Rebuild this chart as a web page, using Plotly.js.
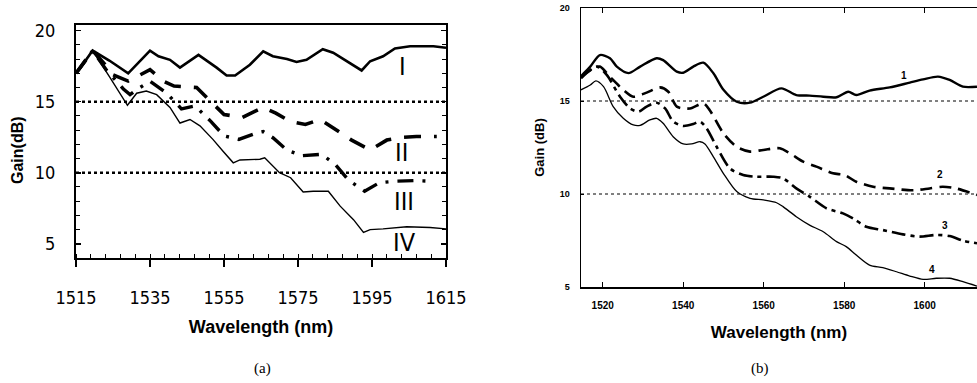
<!DOCTYPE html>
<html>
<head>
<meta charset="utf-8">
<script src="https://cdn.plot.ly/plotly-3.0.1.min.js"></script>
<style>html,body{margin:0;padding:0;background:#fff;}#chart{width:977px;height:383px;}</style>
</head>
<body>
<div id="chart"></div>
<script>
// ---------- Panel (a) data ----------
const aWlI   = [1515, 1516.5, 1519.5, 1524, 1529.1, 1532, 1535, 1537.3, 1540.4, 1543.1, 1548.1, 1553, 1555.7, 1558, 1562, 1565.6, 1568.2, 1572, 1574.6, 1577.3, 1581.7, 1584.5, 1589, 1592.2, 1594.5, 1598, 1601.2, 1605.3, 1611.6, 1615];
const aGainI = [17.0, 17.5, 18.6, 17.9, 17.0, 17.8, 18.6, 18.2, 17.95, 17.4, 18.3, 17.4, 16.85, 16.85, 17.6, 18.55, 18.2, 18.0, 17.8, 17.95, 18.7, 18.45, 17.75, 17.2, 17.85, 18.2, 18.75, 18.9, 18.9, 18.8];

const aWlII   = [1515, 1519.5, 1522.4, 1525, 1529.1, 1532.3, 1535, 1538.6, 1541.5, 1547.6, 1552, 1555, 1560, 1565.6, 1569, 1573, 1577, 1581, 1586, 1589.5, 1594.5, 1599, 1603.5, 1607, 1612.5];
const aGainII = [17.0, 18.6, 17.75, 16.9, 16.45, 16.9, 17.25, 16.45, 16.1, 16.0, 14.9, 14.1, 13.9, 14.6, 14.2, 13.6, 13.4, 13.75, 12.9, 12.3, 11.6, 12.3, 12.5, 12.55, 12.55];

const aWlIII   = [1515, 1519.5, 1523.3, 1527.8, 1529.6, 1531.4, 1535, 1539.5, 1543.5, 1547.2, 1551.5, 1555, 1559, 1563.8, 1565.6, 1568.3, 1572, 1576, 1581.4, 1585, 1588.6, 1593, 1597, 1601, 1606.6, 1611.6];
const aGainIII = [17.0, 18.6, 17.2, 15.9, 15.5, 15.85, 16.45, 15.6, 14.5, 14.7, 13.6, 12.6, 12.35, 12.8, 12.9, 12.45, 11.6, 11.2, 11.3, 10.6, 9.5, 8.7, 9.3, 9.4, 9.45, 9.4];

const aWlIV   = [1515, 1519.5, 1524.2, 1528.9, 1531.4, 1534, 1536.8, 1540.4, 1543.1, 1545.8, 1548.5, 1552, 1554.8, 1557.5, 1559.3, 1564.7, 1566, 1570, 1573, 1576.4, 1579.1, 1583.2, 1586.4, 1590, 1592.7, 1594.5, 1598, 1604.4, 1610.7, 1615];
const aGainIV = [17.0, 18.6, 16.7, 14.75, 15.6, 15.75, 15.5, 14.6, 13.5, 13.75, 13.3, 12.35, 11.5, 10.7, 10.9, 10.95, 11.05, 10.0, 9.65, 8.65, 8.7, 8.7, 7.65, 6.7, 5.8, 6.0, 6.05, 6.2, 6.15, 6.05];

const aLabels   = ["I", "II", "III", "IV"];
const aLabelWl  = [1603.2, 1603.0, 1603.6, 1603.9];
const aLabelGain= [17.5, 11.4, 8.0, 5.1];
const aRefLevels = [15, 10];

// ---------- Panel (b) data ----------
const bWl1   = [1514.6, 1516.9, 1519.3, 1521.8, 1523.5, 1526.4, 1529.3, 1533.4, 1535, 1538.4, 1540, 1542.5, 1545, 1547.5, 1550, 1553.3, 1556.6, 1559.9, 1564.4, 1568.1, 1571.4, 1574.8, 1578.1, 1581, 1583, 1586.3, 1591.3, 1596.3, 1599.6, 1603.3, 1606.2, 1609.5, 1613];
const bGain1 = [16.34, 16.85, 17.47, 17.3, 16.85, 16.5, 16.85, 17.3, 17.2, 16.58, 16.52, 16.85, 17.06, 16.49, 15.6, 14.96, 14.91, 15.23, 15.68, 15.32, 15.29, 15.23, 15.2, 15.5, 15.32, 15.56, 15.73, 15.99, 16.16, 16.31, 16.13, 15.77, 15.77];

const bWl2   = [1514.6, 1517.7, 1519.3, 1521.8, 1525.1, 1527.6, 1530.9, 1534.2, 1536.3, 1538.4, 1541.7, 1545, 1546.6, 1550, 1553.3, 1556.6, 1559.9, 1564, 1566.5, 1569.8, 1573.1, 1577.2, 1580.1, 1583, 1587.2, 1591.3, 1597.1, 1601.2, 1604.5, 1607.8, 1613];
const bGain2 = [16.3, 16.76, 16.85, 16.3, 15.6, 15.23, 15.45, 15.73, 15.5, 14.7, 14.6, 14.87, 14.5, 13.26, 12.54, 12.28, 12.37, 12.46, 12.19, 11.74, 11.47, 11.11, 11.02, 10.66, 10.39, 10.3, 10.2, 10.3, 10.39, 10.3, 9.95];

const bWl3   = [1514.6, 1518.5, 1521, 1524.3, 1526.8, 1528.9, 1530.9, 1533.4, 1535.5, 1537.5, 1540, 1542.5, 1544.2, 1545.8, 1548.3, 1551.6, 1554.9, 1558.2, 1562.3, 1564.8, 1568.1, 1571.4, 1575.6, 1579.7, 1582.2, 1585.5, 1589.6, 1594.6, 1598.7, 1602.9, 1606.2, 1609.5, 1613];
const bGain3 = [16.22, 16.85, 16.4, 15.23, 14.6, 14.43, 14.7, 14.91, 14.6, 13.9, 13.66, 13.76, 13.89, 13.53, 12.54, 11.38, 11.02, 10.93, 10.93, 10.84, 10.3, 9.86, 9.23, 8.96, 8.69, 8.24, 8.06, 7.83, 7.71, 7.8, 7.74, 7.49, 7.35];

const bWl4   = [1514.6, 1516.9, 1518.3, 1520.2, 1522.6, 1525.1, 1527.6, 1529.3, 1531.7, 1533.4, 1535, 1537.5, 1540, 1542.1, 1544.2, 1545.4, 1547.5, 1550, 1553.3, 1556.6, 1559.9, 1563.2, 1564.8, 1568.1, 1571.4, 1574.8, 1578.1, 1580.5, 1583, 1586.3, 1589.6, 1593, 1596.3, 1599.6, 1602.9, 1606.2, 1609.5, 1613];
const bGain4 = [15.6, 15.86, 16.08, 15.77, 14.7, 14.07, 13.71, 13.69, 13.98, 14.07, 13.8, 13.08, 12.69, 12.69, 12.81, 12.69, 12.0, 11.1, 10.13, 9.77, 9.68, 9.53, 9.32, 8.78, 8.33, 7.97, 7.44, 7.17, 6.72, 6.18, 6.04, 5.82, 5.59, 5.41, 5.47, 5.47, 5.29, 5.05];

const bLabels    = ["1", "2", "3", "4"];
const bLabelWl   = [1594.9, 1603.9, 1605.1, 1601.7];
const bLabelGain = [16.35, 11.05, 8.3, 5.95];
const bRefLevels = [15, 10];

// ---------- Build ----------
const NARROW = "'Liberation Sans Narrow', 'Arial Narrow', 'DejaVu Sans Condensed', sans-serif";
const SANS = "'Liberation Sans', Arial, sans-serif";
const SERIF = "'Liberation Serif', 'Times New Roman', serif";

function tr(x, y, xa, ya, width, dash, shape) {
  return {x: x, y: y, xaxis: xa, yaxis: ya, type: 'scatter', mode: 'lines',
          line: {color: '#000', width: width, dash: dash, shape: shape || 'linear', smoothing: 0.8},
          hoverinfo: 'skip'};
}

const data = [
  tr(aWlI, aGainI, 'x', 'y', 2.6, 'solid'),
  tr(aWlII, aGainII, 'x', 'y', 3.6, '17px,13px'),
  tr(aWlIII, aGainIII, 'x', 'y', 3.4, '16px,9px,3px,9px'),
  tr(aWlIV, aGainIV, 'x', 'y', 1.4, 'solid'),
  tr(bWl1, bGain1, 'x2', 'y2', 2.4, 'solid', 'spline'),
  tr(bWl2, bGain2, 'x2', 'y2', 2.6, '12px,7px', 'spline'),
  tr(bWl3, bGain3, 'x2', 'y2', 2.6, '14px,5px,4px,5px', 'spline'),
  tr(bWl4, bGain4, 'x2', 'y2', 1.3, 'solid', 'spline')
];

const shapes = [];
aRefLevels.forEach(v => shapes.push({type: 'line', xref: 'x domain', yref: 'y', x0: 0, x1: 1, y0: v, y1: v,
  line: {color: '#000', width: 2.4, dash: 'dot'}}));
bRefLevels.forEach(v => shapes.push({type: 'line', xref: 'x2 domain', yref: 'y2', x0: 0, x1: 1, y0: v, y1: v,
  line: {color: '#000', width: 1, dash: 'dot'}}));

const annotations = [];
aLabels.forEach((t, i) => annotations.push({xref: 'x', yref: 'y', x: aLabelWl[i], y: aLabelGain[i], text: t,
  xanchor: 'center', yanchor: 'middle',
  showarrow: false, font: {family: NARROW, size: 25, color: '#000'}}));
bLabels.forEach((t, i) => annotations.push({xref: 'x2', yref: 'y2', x: bLabelWl[i], y: bLabelGain[i], text: t,
  xanchor: 'center', yanchor: 'middle',
  showarrow: false, font: {family: SANS, size: 10, weight: 'bold', color: '#000'}}));
annotations.push({xref: 'paper', yref: 'paper', x: 262/977, y: 1 - 368/383, text: '(a)', showarrow: false,
  xanchor: 'center', yanchor: 'middle', font: {family: SERIF, size: 15, color: '#000'}});
annotations.push({xref: 'paper', yref: 'paper', x: 760/977, y: 1 - 368/383, text: '(b)', showarrow: false,
  xanchor: 'center', yanchor: 'middle', font: {family: SERIF, size: 15, color: '#000'}});
annotations.push({xref: 'paper', yref: 'paper', x: 18/977, y: 1 - 150/383, text: 'Gain(dB)', textangle: -90,
  xanchor: 'center', yanchor: 'middle',
  showarrow: false, font: {family: SANS, size: 16, weight: 'bold', color: '#000'}});

const layout = {
  width: 977, height: 383,
  margin: {l: 0, r: 0, t: 0, b: 0},
  paper_bgcolor: '#fff', plot_bgcolor: '#fff',
  showlegend: false,
  xaxis: {
    domain: [76/977, 446/977], range: [1515, 1615], tick0: 1515, dtick: 20,
    ticks: 'outside', ticklen: 7, tickwidth: 1.5, tickcolor: '#000',
    minor: {tick0: 1515, dtick: 4, ticks: 'inside', ticklen: 4, tickwidth: 1, tickcolor: '#000'},
    showline: true, linewidth: 2, linecolor: '#000', mirror: true,
    showgrid: false, zeroline: false,
    tickfont: {family: NARROW, size: 18, color: '#000'}, ticklabelstandoff: 15,
    title: {text: 'Wavelength (nm)', font: {family: SANS, size: 18, weight: 'bold', color: '#000'}, standoff: 14}
  },
  yaxis: {
    domain: [1 - 258/383, 1 - 25/383], range: [4, 20.4], tickvals: [5, 10, 15, 20],
    ticks: 'inside', ticklen: 5, tickwidth: 1.5, tickcolor: '#000',
    minor: {dtick: 1, ticks: 'inside', ticklen: 4, tickwidth: 1, tickcolor: '#000'},
    showline: true, linewidth: 2, linecolor: '#000', mirror: 'ticks',
    showgrid: false, zeroline: false,
    tickfont: {family: NARROW, size: 18, color: '#000'}, ticklabelstandoff: 15
  },
  xaxis2: {
    domain: [581/977, 1], range: [1514.6, 1613], tick0: 1520, dtick: 20, anchor: 'y2',
    ticks: 'inside', ticklen: 5, tickwidth: 1, tickcolor: '#000',
    showline: true, linewidth: 1.5, linecolor: '#000', mirror: 'ticks',
    showgrid: false, zeroline: false,
    tickfont: {family: SANS, size: 10, weight: 'bold', color: '#000'}, ticklabelstandoff: 8,
    title: {text: 'Wavelength (nm)', font: {family: SANS, size: 17, weight: 'bold', color: '#000'}, standoff: 16}
  },
  yaxis2: {
    domain: [1 - 287/383, 1 - 8/383], range: [5, 20], tick0: 5, dtick: 5, anchor: 'x2',
    ticks: 'inside', ticklen: 3, tickwidth: 1, tickcolor: '#000',
    showline: true, linewidth: 1.5, linecolor: '#000', mirror: true,
    showgrid: false, zeroline: false,
    tickfont: {family: SANS, size: 9, weight: 'bold', color: '#000'}, ticklabelstandoff: 8,
    title: {text: 'Gain (dB)', font: {family: SANS, size: 13, weight: 'bold', color: '#000'}, standoff: 12}
  },
  shapes: shapes,
  annotations: annotations
};

Plotly.newPlot('chart', data, layout, {staticPlot: true, displayModeBar: false});
</script>
</body>
</html>
